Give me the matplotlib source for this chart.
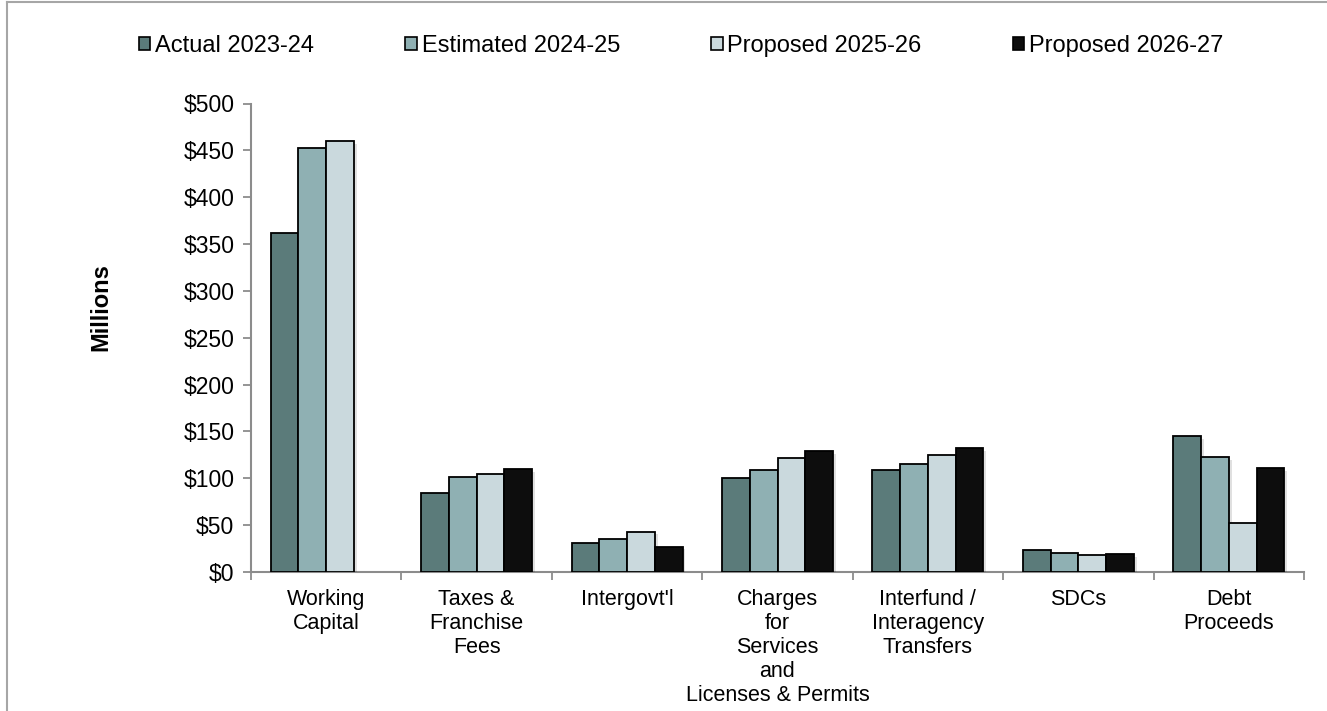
import numpy as np
import matplotlib
matplotlib.use("Agg")
import matplotlib.pyplot as plt
from matplotlib.lines import Line2D
from matplotlib.patches import Patch
import matplotlib.patheffects as pe

plt.rcParams['font.family'] = ['Liberation Sans', 'DejaVu Sans']

categories = ["Working\nCapital", "Taxes &\nFranchise\nFees", "Intergovt'l",
              "Charges\nfor\nServices\nand\nLicenses & Permits",
              "Interfund /\nInteragency\nTransfers", "SDCs", "Debt\nProceeds"]
series_names = ["Actual 2023-24", "Estimated 2024-25", "Proposed 2025-26", "Proposed 2026-27"]
actual_2324 = [362, 84.5, 31, 100, 109, 23, 145]
estimated_2425 = [452, 101.5, 35, 109, 115, 20, 123]
proposed_2526 = [460, 105, 43, 122, 125, 18.5, 52]
proposed_2627 = [np.nan, 110, 27, 129, 132, 19, 111]
series = [actual_2324, estimated_2425, proposed_2526, proposed_2627]
colors = ["#5B7B7A", "#8FB0B3", "#CAD9DD", "#0D0D0D"]
yticks = [0, 50, 100, 150, 200, 250, 300, 350, 400, 450, 500]
ytick_labels = ["$" + str(v) for v in yticks]

W, H = 1327, 711
fig = plt.figure(figsize=(W / 100, H / 100), dpi=100)
ax = fig.add_axes([251 / W, 1 - 572 / H, (1304 - 251) / W, (572 - 103.5) / H])

n = len(categories)
centers = np.arange(n) + 0.5
bw = 0.1846
shadow = [pe.SimplePatchShadow(offset=(2, -2), alpha=0.12, shadow_rgbFace='black'), pe.Normal()]
for i, (vals, c) in enumerate(zip(series, colors)):
    xs = centers + (i - 1.5) * bw
    vals = np.array(vals, dtype=float)
    mask = ~np.isnan(vals)
    bars = ax.bar(xs[mask], vals[mask], width=bw, color=c, edgecolor='black',
                  linewidth=1.3, zorder=3)
    for b in bars:
        b.set_path_effects(shadow)

ax.set_xlim(0, n)
ax.set_ylim(0, 500)
ax.set_yticks(yticks)
ax.set_yticklabels(ytick_labels, fontsize=16.5)
ax.set_xticks(np.arange(n + 1))
ax.set_xticklabels([])
ax.set_xticks(centers, minor=True)
ax.set_xticklabels(categories, minor=True, fontsize=15.5, linespacing=1.2, va='top')
ax.tick_params(axis='x', which='minor', length=0, pad=12)
ax.tick_params(axis='x', which='major', length=6, width=1.3, color='#8C8C8C', direction='out')
ax.tick_params(axis='y', length=6, width=1.3, color='#8C8C8C', direction='out', pad=6)

for s in ['top', 'right']:
    ax.spines[s].set_visible(False)
for s in ['left', 'bottom']:
    ax.spines[s].set_color('#8C8C8C')
    ax.spines[s].set_linewidth(1.5)

fig.text(101 / W, 1 - 307 / H, "Millions", rotation=90, fontsize=17, fontweight='bold',
         ha='center', va='center')

handles = [Patch(facecolor=c, edgecolor='black', linewidth=1.2) for c in colors]
leg = fig.legend(handles, series_names, loc='center', bbox_to_anchor=(681 / W, 1 - 46 / H),
                 ncol=4, frameon=False, fontsize=17, handlelength=0.5, handleheight=0.5,
                 handletextpad=0.2, columnspacing=3.85, borderaxespad=0)

# outer frame (top and left visible)
fig.add_artist(Line2D([6.5 / W, 1], [1 - 2 / H, 1 - 2 / H], transform=fig.transFigure,
                      color='#A6A6A6', linewidth=1.5))
fig.add_artist(Line2D([6.5 / W, 6.5 / W], [0, 1 - 2 / H], transform=fig.transFigure,
                      color='#A6A6A6', linewidth=1.5))

fig.savefig("out.png", dpi=100)
